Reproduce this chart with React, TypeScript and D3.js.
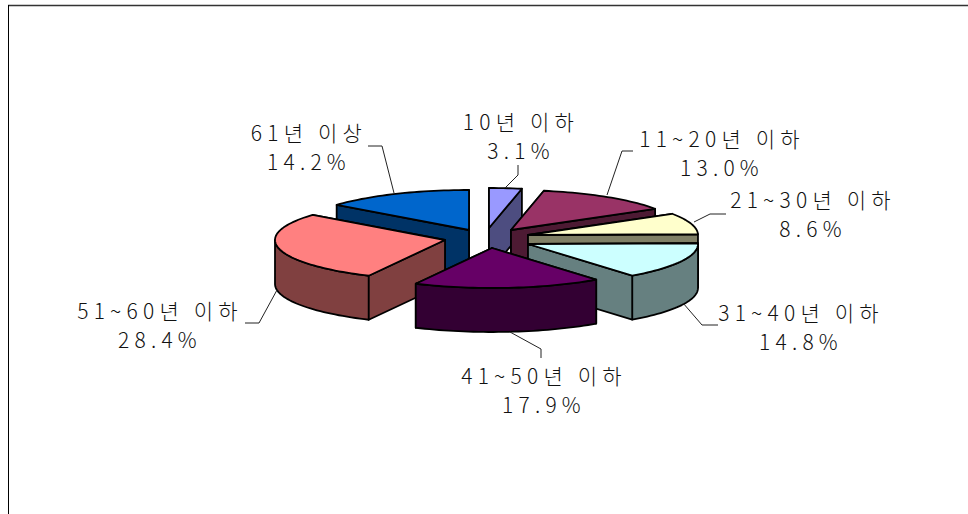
import React from "react";
import * as d3 from "d3";

const categories = ["10년 이하", "11~20년 이하", "21~30년 이하", "31~40년 이하", "41~50년 이하", "51~60년 이하", "61년 이상"];
const values = [3.1, 13.0, 8.6, 14.8, 17.9, 28.4, 14.2];
const topColors = ["#9999ff", "#993366", "#ffffcc", "#ccffff", "#660066", "#ff8080", "#0066cc"];
const sideColors = ["#4d4d80", "#4d1a33", "#808066", "#668080", "#330033", "#804040", "#003366"];
// slice apex on screen (exploded pie)
const apexX = [489, 511, 528, 528, 492, 445, 469];
const apexY = [228, 230, 235, 244, 248, 240, 230];
const drawOrder = [6, 0, 1, 2, 3, 5, 4];
const labelX = [521, 722, 813, 801, 544, 160, 309];
const labelY = [122, 139, 200, 313, 376, 311, 133];
const leaders: [number, number][][] = [
  [[518, 165], [518, 175], [505, 188]],
  [[633, 151], [622, 151], [607, 195]],
  [[726, 214], [710, 214], [694, 222]],
  [[683, 303], [702, 325], [718, 325]],
  [[510, 332], [541, 349], [541, 358]],
  [[277, 290], [259, 323], [245, 323]],
  [[368, 146], [382, 146], [394, 193]],
];

const RX = 170;
const RY = 40;
const DEPTH = 44;
const FONT = "'Noto Sans CJK KR', 'Noto Sans', sans-serif";

export default function App() {
  const pie = d3.pie<number>().sort(null).value((d) => d);
  const arcs = pie(values);
  const px = d3.scaleLinear().domain([-1, 1]).range([-RX, RX]);
  const py = d3.scaleLinear().domain([-1, 1]).range([RY, -RY]);
  const line = d3.line();

  const rim = (i: number, a0: number, a1: number, dz = 0): [number, number][] => {
    const n = Math.max(2, Math.ceil((a1 - a0) / 0.03));
    return d3.range(n + 1).map((k) => {
      const a = a0 + ((a1 - a0) * k) / n;
      return [apexX[i] + px(Math.sin(a)), apexY[i] + py(Math.cos(a)) + dz] as [number, number];
    });
  };

  const stroke = { stroke: "#000", strokeWidth: 1.8, strokeLinejoin: "round" as const };

  return (
    <svg width={968} height={514} style={{ position: "fixed", left: 0, top: 0, display: "block", background: "#fff" }}>
      <line x1={8} x2={968} y1={5.5} y2={5.5} stroke="#333" strokeWidth={1.5} />
      <line x1={8.5} x2={8.5} y1={5} y2={514} stroke="#000" strokeWidth={1} />
      {drawOrder.map((i) => {
        const { startAngle: a0, endAngle: a1 } = arcs[i];
        const ax = apexX[i];
        const ay = apexY[i];
        const s = rim(i, a0, a0)[0];
        const e = rim(i, a1, a1)[0];
        const radial = (p: [number, number]) =>
          line([[ax, ay], p, [p[0], p[1] + DEPTH], [ax, ay + DEPTH]])! + "Z";
        const w0 = Math.max(a0, Math.PI / 2);
        const w1 = Math.min(a1, (3 * Math.PI) / 2);
        const wall =
          w1 > w0
            ? line([...rim(i, w0, w1), ...rim(i, w0, w1, DEPTH).reverse()])! + "Z"
            : null;
        const startVisible = Math.sin(a0) < 0;
        const endVisible = Math.sin(a1) > 0;
        return (
          <g key={i}>
            {!startVisible && <path d={radial(s)} fill={sideColors[i]} {...stroke} />}
            {!endVisible && <path d={radial(e)} fill={sideColors[i]} {...stroke} />}
            {wall && <path d={wall} fill={sideColors[i]} {...stroke} />}
            {startVisible && <path d={radial(s)} fill={sideColors[i]} {...stroke} />}
            {endVisible && <path d={radial(e)} fill={sideColors[i]} {...stroke} />}
            <path d={line([[ax, ay], ...rim(i, a0, a1)])! + "Z"} fill={topColors[i]} {...stroke} />
          </g>
        );
      })}
      {leaders.map((pts, i) => (
        <path key={i} d={line(pts)!} fill="none" stroke="#222" strokeWidth={1} />
      ))}
      {categories.map((c, i) => (
        <text
          key={c}
          textAnchor="middle"
          fontFamily={FONT}
          fontSize={21}
          fontWeight={300}
          letterSpacing={5.2}
          fill="#111"
          x={labelX[i]}
        >
          <tspan x={labelX[i]} y={labelY[i] + 8}>{c}</tspan>
          <tspan x={labelX[i]} y={labelY[i] + 37}>{values[i].toFixed(1)}%</tspan>
        </text>
      ))}
    </svg>
  );
}
